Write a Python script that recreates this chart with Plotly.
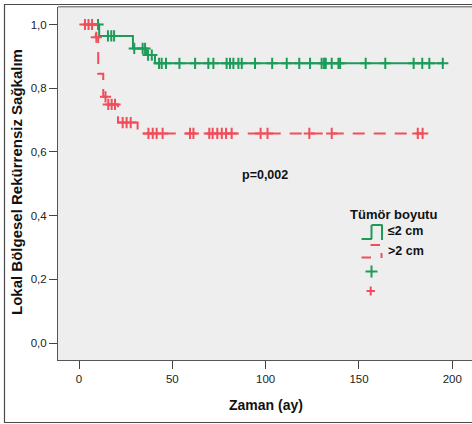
import numpy as np
import plotly.graph_objects as go

# ---------------- data ----------------
x_ticks = [0, 50, 100, 150, 200]
x_tick_labels = ["0", "50", "100", "150", "200"]
y_ticks = [0.0, 0.2, 0.4, 0.6, 0.8, 1.0]
y_tick_labels = ["0,0", "0,2", "0,4", "0,6", "0,8", "1,0"]

groups = ["≤2 cm", "&gt;2 cm"]

small_start, small_end = 8.0, 195.0
small_event_times = [10.8, 28.9, 35.9, 40.7]
small_surv = [0.964, 0.925, 0.904, 0.878]
small_censor = [10.2, 15.5, 17.3, 18.8, 29.6, 34.1, 35.4, 37.0, 39.0, 42.9,
                44.3, 46.6, 53.8, 62.2, 69.3, 72.0, 79.1, 80.9, 82.7, 85.4,
                87.2, 94.3, 103.5, 111.3, 118.0, 123.8, 130.0, 131.3, 132.2,
                135.4, 139.0, 139.9, 153.6, 164.1, 179.3, 183.9, 187.7, 194.9]

large_start, large_end = 2.5, 184.1
large_event_times = [9.0, 10.3, 13.0, 14.6, 20.9, 31.4]
large_surv = [0.960, 0.845, 0.773, 0.749, 0.692, 0.658]
large_censor = [3.2, 5.1, 7.0, 9.3, 14.2, 15.7, 17.5, 19.3, 23.4, 25.5, 27.7,
                37.2, 39.5, 41.6, 44.8, 59.5, 61.3, 69.8, 71.6, 74.1, 76.5,
                78.8, 81.8, 97.3, 101.0, 123.4, 135.4, 181.5, 184.1]

p_text = "p=0,002"
legend_title = "Tümör boyutu"
x_title = "Zaman (ay)"
y_title = "Lokal Bölgesel Rekürrensiz Sağkalım"

GREEN = "#1E9B58"
RED = "#F04E5A"
FONT = "Liberation Sans, Arial, sans-serif"

# ---------------- helpers ----------------
def step_xy(start, end, times, surv):
    xs = [start] + list(times) + [end]
    ys = [1.0] + list(surv) + [surv[-1]]
    return xs, ys

def step_lookup(t, times, surv):
    idx = np.searchsorted(np.array(times), t, side="right") - 1
    return 1.0 if idx < 0 else surv[idx]

W, H = 472, 424
ML, MR, MT, MB = 58, 0, 7, 64
PW, PH = W - ML - MR, H - MT - MB

def px(x):
    return (x - ML) / PW

def py(y):
    return 1 - (y - MT) / PH

fig = go.Figure()

sx, sy = step_xy(small_start, small_end, small_event_times, small_surv)
lx, ly = step_xy(large_start, large_end, large_event_times, large_surv)

fig.add_trace(go.Scatter(x=sx, y=sy, mode="lines", line_shape="hv",
                         line=dict(color=GREEN, width=2), name=groups[0],
                         showlegend=False))
fig.add_trace(go.Scatter(x=lx, y=ly, mode="lines", line_shape="hv",
                         line=dict(color=RED, width=2, dash="12px,9px"),
                         name=">2 cm", showlegend=False))

fig.add_trace(go.Scatter(
    x=small_censor,
    y=[step_lookup(t, small_event_times, small_surv) for t in small_censor],
    mode="markers",
    marker=dict(symbol="cross-thin", size=8, line=dict(color=GREEN, width=2)),
    showlegend=False))
fig.add_trace(go.Scatter(
    x=large_censor,
    y=[step_lookup(t, large_event_times, large_surv) for t in large_censor],
    mode="markers",
    marker=dict(symbol="cross-thin", size=8, line=dict(color=RED, width=2)),
    showlegend=False))

shapes = []
# outer frame
shapes.append(dict(type="rect", xref="paper", yref="paper",
                   x0=px(4.5), x1=px(476), y0=py(422.5), y1=py(4.5),
                   line=dict(color="#4a4a4a", width=1.2), layer="below"))
# plot top border
shapes.append(dict(type="line", xref="paper", yref="paper",
                   x0=0, x1=1, y0=py(6.8), y1=py(6.8),
                   line=dict(color="#555555", width=1)))

# legend icons
def seg(x0, y0, x1, y1, color, width=2):
    shapes.append(dict(type="line", xref="paper", yref="paper",
                       x0=px(x0), y0=py(y0), x1=px(x1), y1=py(y1),
                       line=dict(color=color, width=width)))

seg(361.5, 239, 372, 239, GREEN)
seg(371.5, 239, 371.5, 225, GREEN)
seg(371.5, 225, 382.5, 225, GREEN)
seg(382, 225, 382, 240, GREEN)
# red dashed icon pieces
seg(370.5, 245, 380, 245, RED)
seg(381.5, 253, 381.5, 258, RED)
seg(361.5, 257.5, 371, 257.5, RED)
# plus symbols
seg(365.5, 271.5, 377.5, 271.5, GREEN)
seg(371.5, 265.5, 371.5, 277.5, GREEN)
seg(366.5, 291, 375, 291, RED)
seg(370.7, 286.5, 370.7, 295.5, RED)

def ann(xp, yp, text, size, xanchor="center", angle=0):
    return dict(x=px(xp), y=py(yp), xref="paper", yref="paper",
                text="<b>" + text + "</b>", showarrow=False,
                xanchor=xanchor, yanchor="middle", textangle=angle,
                font=dict(family=FONT, size=size, color="#111111"))

annotations = [
    ann(265, 175, p_text, 12.5),
    ann(347.5, 214.5, legend_title, 13, xanchor="left"),
    ann(386, 231, groups[0], 12.5, xanchor="left"),
    ann(386, 251, groups[1], 12.5, xanchor="left"),
    ann(16, 182, y_title, 15, angle=-90),
    ann(266, 405, x_title, 14),
]

x0_px = 79.0
x_scale = (452.3 - 79.0) / 200.0
y1_px, y0_px = 24.5, 343.0
y_scale = (y0_px - y1_px)

fig.update_layout(
    width=W, height=H,
    margin=dict(l=ML, r=MR, t=MT, b=MB, pad=0),
    paper_bgcolor="white",
    plot_bgcolor="#EEEEEE",
    font=dict(family=FONT, size=11, color="#222222"),
    showlegend=False,
    shapes=shapes,
    annotations=annotations,
    xaxis=dict(range=[(ML - x0_px) / x_scale, (ML + PW - x0_px) / x_scale],
               tickvals=x_ticks, ticktext=x_tick_labels,
               ticks="outside", ticklen=8, tickwidth=1, tickcolor="#444444",
               showline=True, linecolor="#555555", linewidth=1,
               showgrid=False, zeroline=False,
               tickfont=dict(family=FONT, size=11.5, color="#222222")),
    yaxis=dict(range=[(y0_px - (MT + PH)) / y_scale, (y0_px - MT) / y_scale],
               tickvals=y_ticks, ticktext=y_tick_labels,
               ticks="outside", ticklen=8, tickwidth=1, tickcolor="#444444",
               showline=True, linecolor="#555555", linewidth=1,
               showgrid=False, zeroline=False,
               tickfont=dict(family=FONT, size=11.5, color="#222222")),
)

fig.write_html("out.html")
